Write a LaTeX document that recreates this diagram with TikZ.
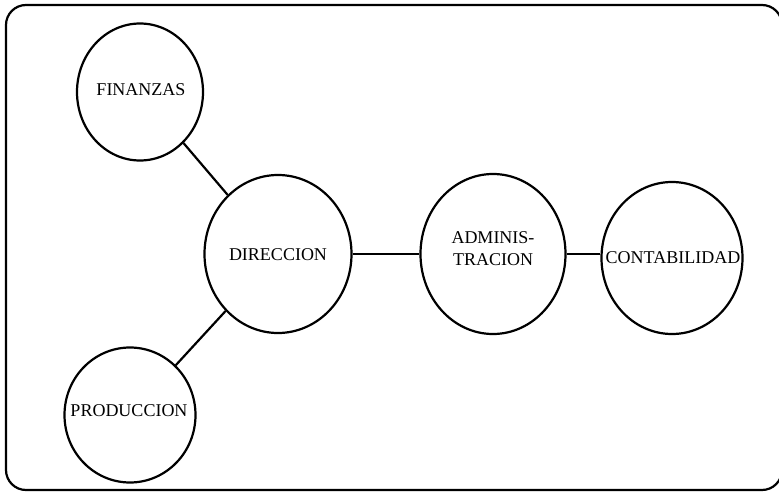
\documentclass[tikz,border=0pt]{standalone}
\usepackage{fontspec}
\setmainfont{Liberation Serif}
\usetikzlibrary{shapes.geometric}

\tikzset{
  area/.style={ellipse, draw=black, line width=2.2pt, inner sep=0pt},
  tag/.style={font=\fontsize{18}{22}\selectfont, align=center, inner sep=0pt},
  link/.style={draw=black, line width=2.2pt},
  frame/.style={draw=black, line width=2.2pt, rounded corners=20pt}
}

\begin{document}
\begin{tikzpicture}[x=1pt, y=-1pt]
  \useasboundingbox (0,0) rectangle (779,492);
  \clip (0,0) rectangle (779,492);
  \fill[white] (0,0) rectangle (779,492);

  % outer frame
  \draw[frame] (6,5) rectangle (782,490);

  % areas of the organisation
  \node[area, minimum width=126pt, minimum height=137pt] (fin) at (140,92) {};
  \node[area, minimum width=147pt, minimum height=158pt] (dir) at (278,254) {};
  \node[area, minimum width=131pt, minimum height=135pt] (prod) at (130,415) {};
  \node[area, minimum width=145pt, minimum height=160pt] (adm) at (493,254) {};
  \node[area, minimum width=141pt, minimum height=152pt] (con) at (672,258) {};

  % names
  \node[tag] (finT) at (141,90) {FINANZAS};
  \node[tag] (dirT) at (278,255) {DIRECCION};
  \node[tag] (prodT) at (129,411) {PRODUCCION};
  \node[tag] (admT) at (493,249) {ADMINIS-\\TRACION};
  \node[tag] (conT) at (673,258) {CONTABILIDAD};

  % links between areas
  \draw[link] (fin) -- (dir);
  \draw[link] (prod) -- (dir);
  \draw[link] (dir.east) -- (adm.west);
  \draw[link] (adm.east) -- (con.west |- adm.east);
\end{tikzpicture}
\end{document}
